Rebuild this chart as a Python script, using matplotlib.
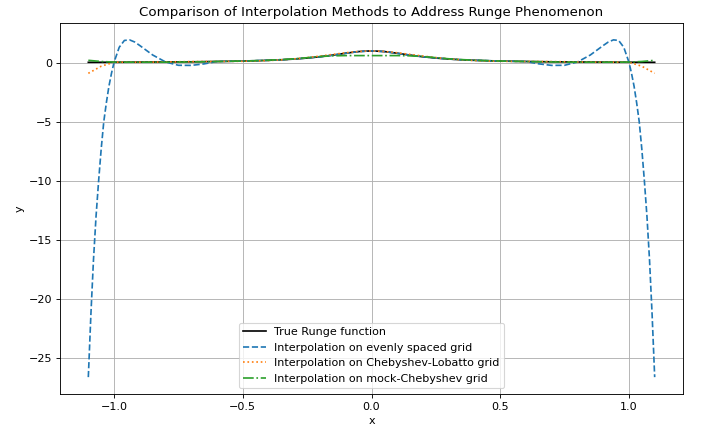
import numpy as np
import matplotlib
matplotlib.use('Agg')
from matplotlib import pyplot as plt

# values (x >= 0 half, curves are mirrored)
x_half = [0.0, 0.05, 0.1, 0.15, 0.2, 0.25, 0.3, 0.35, 0.4, 0.45, 0.5, 0.55,
          0.6, 0.65, 0.7, 0.75, 0.8, 0.85, 0.9, 0.95, 1.0, 1.05, 1.1]
true_half = [1.0, 0.941, 0.8, 0.64, 0.5, 0.39, 0.308, 0.246, 0.2, 0.165, 0.138, 0.117,
             0.1, 0.086, 0.075, 0.066, 0.059, 0.052, 0.047, 0.042, 0.038, 0.035, 0.032]
cheb_half = [1.0, 0.95, 0.84, 0.7, 0.56, 0.43, 0.32, 0.24, 0.18, 0.14, 0.12, 0.11,
             0.1, 0.1, 0.09, 0.08, 0.06, 0.05, 0.04, 0.04, 0.04, -0.3, -0.9]
mock_half = [0.6, 0.6, 0.6, 0.58, 0.52, 0.42, 0.33, 0.26, 0.21, 0.17, 0.14, 0.12,
             0.1, 0.08, 0.06, 0.05, 0.04, 0.04, 0.04, 0.04, 0.05, 0.1, 0.2]

x_even_half = [0.0, 0.05, 0.1, 0.15, 0.2, 0.25, 0.3, 0.35, 0.4, 0.45, 0.5, 0.55,
               0.6, 0.65, 0.7, 0.75, 0.8, 0.85, 0.9, 0.92, 0.94, 0.96, 0.98,
               1.0, 1.01, 1.02, 1.03, 1.04, 1.05, 1.06, 1.07, 1.08, 1.09, 1.1]
even_half = [1.0, 0.94, 0.79, 0.63, 0.5, 0.4, 0.31, 0.24, 0.2, 0.17, 0.14, 0.12,
             0.1, -0.1, -0.23, -0.22, 0.06, 0.65, 1.45, 1.75, 1.93, 1.88, 1.3,
             0.04, -0.9, -2.0, -3.4, -5.0, -7.3, -10.0, -13.0, -16.7, -21.3, -26.6]


def mirror(xs, ys):
    xs = np.asarray(xs)
    ys = np.asarray(ys)
    return np.concatenate([-xs[:0:-1], xs]), np.concatenate([ys[:0:-1], ys])


x, y_true = mirror(x_half, true_half)
_, y_cheb = mirror(x_half, cheb_half)
_, y_mock = mirror(x_half, mock_half)
x_even, y_even = mirror(x_even_half, even_half)

dpi = 80.3
fig = plt.figure(figsize=(701 / dpi, 430 / dpi), dpi=dpi)
ax = fig.add_axes([60 / 701, 1 - 394 / 430, 623 / 701, 371 / 430])

ax.plot(x, y_true, color='black', label='True Runge function')
ax.plot(x_even, y_even, '--', color='tab:blue', label='Interpolation on evenly spaced grid')
ax.plot(x, y_cheb, ':', color='tab:orange', label='Interpolation on Chebyshev-Lobatto grid')
ax.plot(x, y_mock, '-.', color='tab:green', label='Interpolation on mock-Chebyshev grid')

ax.set_title('Comparison of Interpolation Methods to Address Runge Phenomenon')
ax.set_xlabel('x')
ax.set_ylabel('y')
ax.legend(loc='lower center')
ax.grid(True)

fig.savefig('out.png', dpi=dpi)
